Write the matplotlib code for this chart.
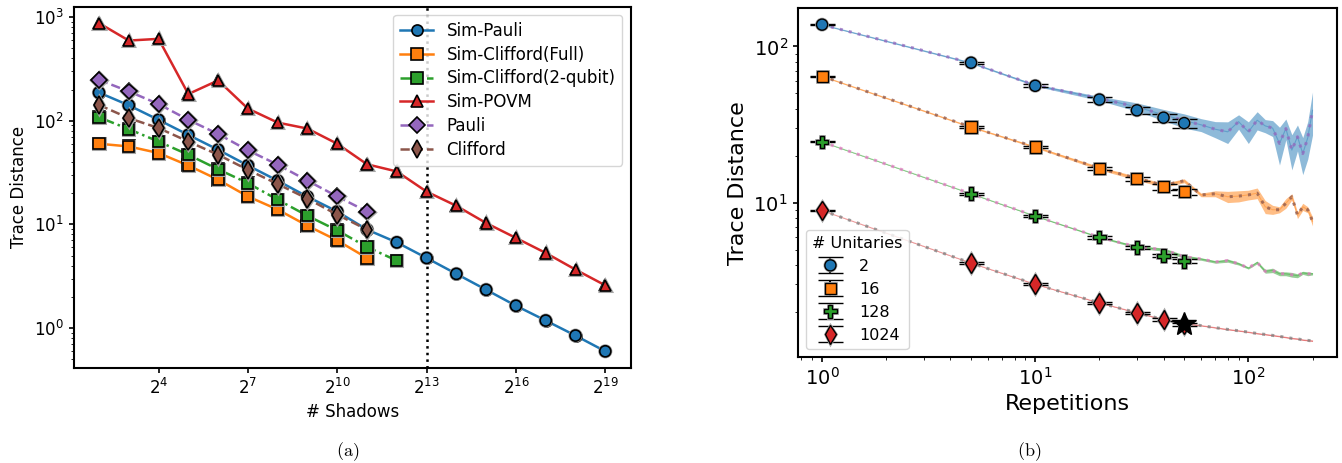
import numpy as np
import matplotlib
matplotlib.use("Agg")
import matplotlib.pyplot as plt
import matplotlib.patheffects as pe
from matplotlib.ticker import FixedLocator, NullLocator

# ---- panel (a): trace distance vs number of shadows ----
shadow_pow = list(range(2, 20))  # 2^2 ... 2^19
sim_pauli = [187, 141, 102, 73, 52.5, 37, 26.4, 18.5, 13.3, 8.9, 6.7, 4.74,
             3.33, 2.34, 1.64, 1.18, 0.845, 0.596]
sim_cliff_full = [60, 56.5, 48.8, 37, 27, 18.6, 13.9, 9.7, 7.0, 4.74]
sim_cliff_2q = [108, 83, 63, 47, 34, 25, 17.3, 12.1, 8.75, 6.05, 4.47]
sim_povm = [875, 594, 617, 181, 245, 131, 96, 84, 60, 38, 32.4, 20.7,
            15.1, 10.3, 7.4, 5.3, 3.66, 2.58]
pauli = [248, 192, 145, 102, 74.5, 51.8, 37.7, 26.4, 18.6, 13.3]
clifford = [142, 106, 85, 63, 47, 33.6, 24.5, 17.7, 12.4, 8.9]
xtick_pow = [4, 7, 10, 13, 16, 19]
cut_pow = 13

# ---- panel (b): trace distance vs repetitions ----
reps = [1, 5, 10, 20, 30, 40, 50]
u2_pts = [138, 78.7, 56, 45.7, 39, 35, 32.3]
u16_pts = [64.4, 30.5, 22.7, 16.6, 14.2, 12.6, 11.7]
u128_pts = [24.5, 11.4, 8.2, 6.0, 5.17, 4.57, 4.2]
u1024_pts = [8.9, 4.1, 3.0, 2.28, 1.97, 1.78, 1.66]
u2_err = [1.0, 1.2, 1.3, 1.6, 1.8, 2.2, 2.2]
u16_err = [0.5, 0.5, 0.45, 0.4, 0.45, 0.5, 0.5]
u128_err = [0.18, 0.16, 0.14, 0.12, 0.12, 0.12, 0.12]
u1024_err = [0.06, 0.05, 0.045, 0.035, 0.035, 0.035, 0.035]
unitaries = ["2", "16", "128", "1024"]

curve_x = [1, 5, 10, 20, 30, 40, 50, 60, 70, 80, 90, 100, 110, 120, 130,
           140, 150, 160, 170, 180, 190, 200]
u2_mean = [138, 78.5, 56.5, 46.5, 41, 36.5, 33.5, 31.5, 29.5, 28.4, 33, 28.4,
           33.7, 31, 30, 23.9, 29.8, 21.7, 26.4, 20.6, 26, 39]
u2_std = [1.0, 0.8, 0.8, 1.5, 2.5, 3, 3.5, 3, 3.5, 4.5, 3.5, 4.5, 4.5, 3,
          3.5, 6.5, 4.5, 5.5, 5, 5.5, 7, 12]
u16_mean = [64.5, 30.5, 22.7, 16.6, 14.3, 12.9, 13.8, 11.2, 11.4, 10.9, 11.0,
            11.2, 11.5, 9.4, 9.0, 9.0, 9.9, 10.9, 8.3, 9.4, 9.0, 7.6]
u16_std = [0.5, 0.3, 0.3, 0.4, 0.4, 0.4, 0.4, 0.3, 0.5, 0.9, 0.9, 0.8, 0.9,
           0.9, 0.6, 0.4, 0.7, 0.5, 0.4, 0.5, 0.4, 0.5]
u128_mean = [24.5, 11.4, 8.2, 6.0, 5.2, 5.0, 4.5, 4.35, 4.17, 4.25, 4.06,
             3.81, 4.14, 3.63, 3.68, 3.5, 3.5, 3.45, 3.4, 3.55, 3.5, 3.5]
u128_std = [0.1, 0.05, 0.05, 0.06, 0.1, 0.12, 0.12, 0.08, 0.08, 0.1, 0.08,
            0.06, 0.08, 0.1, 0.12, 0.1, 0.1, 0.12, 0.1, 0.08, 0.1, 0.06]
u1024_mean = [8.9, 4.1, 3.0, 2.28, 1.97, 1.78, 1.68, 1.63, 1.58, 1.54, 1.51,
              1.48, 1.45, 1.43, 1.41, 1.39, 1.37, 1.35, 1.34, 1.32, 1.31, 1.30]
u1024_std = [0.01] * len(curve_x)

plt.rcParams["axes.linewidth"] = 1.5
plt.rcParams["xtick.major.width"] = 1.2
plt.rcParams["ytick.major.width"] = 1.2

fig = plt.figure(figsize=(13.42, 4.63), dpi=100)
ax1 = fig.add_axes([0.0549, 0.2058, 0.415, 0.7797])
ax2 = fig.add_axes([0.5943, 0.2283, 0.402, 0.7538])

halo = [pe.Stroke(linewidth=2.2, foreground="0.65"), pe.Normal()]

# left panel lines
shadows = np.array([2.0 ** p for p in shadow_pow])
series = [
    (sim_pauli, "Sim-Pauli", "C0", "-", "o", 8),
    (sim_cliff_full, "Sim-Clifford(Full)", "C1", "-", "s", 8),
    (sim_cliff_2q, "Sim-Clifford(2-qubit)", "C2", "-.", "s", 8),
    (sim_povm, "Sim-POVM", "C3", "-", "^", 8),
    (pauli, "Pauli", "C4", "--", "D", 8),
    (clifford, "Clifford", "C5", "--", "d", 9),
]
for i, (vals, lab, col, ls, mk, ms) in enumerate(series):
    xs = shadows[:len(vals)]
    ax1.plot(xs, vals, color=col, ls=ls, lw=1.8, marker=mk, ms=ms,
             mec="k", mew=1.2, label=lab, zorder=2 + i * 0.1)
    # marker overlay with a light grey halo
    ax1.plot(xs, vals, ls="none", marker=mk, ms=ms, color=col, mec="k",
             mew=1.2, path_effects=halo, zorder=2.05 + i * 0.1)

ax1.axvline(2.0 ** cut_pow, color="k", ls=":", lw=1.8, zorder=1)
ax1.set_xscale("log", base=2)
ax1.set_yscale("log")
ax1.xaxis.set_major_locator(FixedLocator([2.0 ** p for p in xtick_pow]))
ax1.xaxis.set_minor_locator(NullLocator())
ax1.set_xticklabels([f"$2^{{{p}}}$" for p in xtick_pow])
ax1.tick_params(labelsize=12)
ax1.set_xlabel("# Shadows", fontsize=12)
ax1.set_ylabel("Trace Distance", fontsize=12)
ax1.legend(loc="upper right", fontsize=12, labelspacing=0.35)

# right panel: bands, mean lines, dotted lines
curves = [
    (u2_mean, u2_std, "C0", "C4"),
    (u16_mean, u16_std, "C1", "C5"),
    (u128_mean, u128_std, "C2", "C6"),
    (u1024_mean, u1024_std, "C3", "C7"),
]
for mean, std, col, dcol in curves:
    m = np.array(mean)
    s = np.array(std)
    ax2.fill_between(curve_x, m - s, m + s, color=col, alpha=0.5, lw=0, zorder=1)
    ax2.plot(curve_x, m, color=col, lw=0.8, alpha=0.4, zorder=1.5)
    ax2.plot(curve_x, m, color=dcol, ls=(0, (1, 2)), lw=2.2, alpha=0.75,
             zorder=2)

points = [
    (u2_pts, u2_err, "C0", "o", 8),
    (u16_pts, u16_err, "C1", "s", 8),
    (u128_pts, u128_err, "C2", "P", 9),
    (u1024_pts, u1024_err, "C3", "d", 10),
]
handles = []
for (vals, err, col, mk, ms), lab in zip(points, unitaries):
    eb = ax2.errorbar(reps, vals, yerr=err, fmt=mk, color=col, ms=ms,
                      mec="k", mew=1.0, ecolor="k", elinewidth=1.5,
                      capsize=9, capthick=2.0, label=lab, zorder=3)
    eb.lines[0].set_path_effects([pe.Stroke(linewidth=2.0, foreground="0.65"),
                                  pe.Normal()])
    handles.append(eb)

# black star on the last 1024 point
ax2.plot(reps[-1], u1024_pts[-1], marker="*", color="k", ms=18, ls="none",
         zorder=4)

ax2.set_xscale("log")
ax2.set_yscale("log")
ax2.tick_params(labelsize=14)
ax2.set_xlabel("Repetitions", fontsize=16)
ax2.set_ylabel("Trace Distance", fontsize=16)
ax2.legend(handles=handles, labels=unitaries, title="# Unitaries",
           loc="lower left", fontsize=11.5, title_fontsize=11.5)

fig.text(348 / 1342, 1 - 451.7 / 463, r"$\mathrm{(a)}$", math_fontfamily="cm",
         fontsize=13, ha="center", va="center")
fig.text(1029 / 1342, 1 - 451.7 / 463, r"$\mathrm{(b)}$", math_fontfamily="cm",
         fontsize=13, ha="center", va="center")

fig.savefig("out.png", dpi=100)
